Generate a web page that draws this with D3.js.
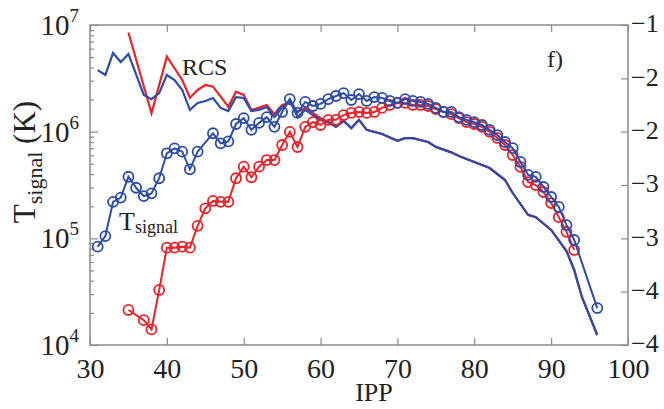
<!DOCTYPE html>
<html>
<head>
<meta charset="utf-8">
<script src="https://cdn.jsdelivr.net/npm/d3@7"></script>
<style>
body { margin: 0; background: #fff; }
svg { display: block; font-family: "Liberation Serif", "Times New Roman", serif; }
</style>
</head>
<body>
<svg id="chart" width="664" height="409"></svg>
<script>
// values (IPP vs temperature in K)
const rcsBlueIpp = [31,32,33,34,35,37,38,39,40,41,42,43,44,45,46,47,48,49,50,51,52,53,54,55,56,57,58,59,60,61,62,63,64,65,66,68,70,71,72,74,75,77,78,80,82,84,85,87,88,90,92,93,94,96]
const rcsBlueK = [3.78e6,3.4e6,5.47e6,4.5e6,5.35e6,2.21e6,2.02e6,2.3e6,3.4e6,3.05e6,2.46e6,1.6e6,1.86e6,1.94e6,2.07e6,1.67e6,1.56e6,2.11e6,2.07e6,1.56e6,1.6e6,1.7e6,1.37e6,1.67e6,1.98e6,1.37e6,1.6e6,1.43e6,1.29e6,1.23e6,1.11e6,1.26e6,1.08e6,1.29e6,1.04e6,9.5e5,8.2e5,8.7e5,8.7e5,8.0e5,7.2e5,6.4e5,5.9e5,5.2e5,4.56e5,3.52e5,2.66e5,1.66e5,1.58e5,1.2e5,7.6e4,5.05e4,2.82e4,1.24e4]

const rcsRedIpp = [35,38,40,41,42,43,44,45,46,47,48,49,50,51,52,53,54,55,56,57,58,59,60,61,62,63,64,65,66,68,70,71,72,74,75,77,78,80,82,84,85,87,88,90,92,93,94,96]
const rcsRedK = [8.5e6,1.49e6,5.05e6,3.93e6,3.05e6,2.08e6,2.46e6,2.74e6,2.64e6,2.13e6,1.71e6,2.37e6,2.21e6,1.6e6,1.68e6,1.78e6,1.46e6,1.78e6,1.86e6,1.53e6,1.67e6,1.5e6,1.34e6,1.23e6,1.11e6,1.26e6,1.08e6,1.29e6,1.04e6,9.5e5,8.2e5,8.7e5,8.7e5,8.0e5,7.2e5,6.4e5,5.9e5,5.2e5,4.56e5,3.52e5,2.66e5,1.66e5,1.58e5,1.2e5,7.6e4,5.05e4,2.82e4,1.24e4]

const sigBlueIpp = [31,32,33,34,35,36,37,38,39,40,41,42,43,44,46,47,48,49,50,51,52,53,54,55,56,57,58,59,60,61,62,63,64,65,66,67,68,69,70,71,72,73,74,75,76,77,78,79,80,81,82,83,84,85,86,87,88,89,90,91,92,93,96]
const sigBlueK = [8.35e4,1.05e5,2.2e5,2.41e5,3.78e5,2.98e5,2.49e5,2.64e5,3.66e5,6.27e5,6.98e5,6.49e5,4.44e5,6.49e5,9.66e5,7.78e5,8.1e5,1.18e6,1.34e6,1.04e6,1.21e6,1.37e6,1.11e6,1.53e6,2.02e6,1.5e6,1.9e6,1.74e6,1.82e6,2.02e6,2.16e6,2.3e6,1.98e6,2.25e6,1.94e6,2.11e6,2.07e6,1.94e6,1.86e6,2.02e6,1.94e6,1.9e6,1.82e6,1.67e6,1.53e6,1.53e6,1.37e6,1.29e6,1.23e6,1.155e6,1.04e6,9.3e5,8.0e5,7.0e5,5.2e5,3.93e5,3.77e5,3.03e5,2.44e5,1.97e5,1.33e5,9.65e4,2.22e4]

const sigRedIpp = [35,37,38,39,40,41,42,43,44,45,46,47,48,49,50,51,52,53,54,55,56,57,58,59,60,61,62,63,64,65,66,67,68,69,70,71,72,73,74,75,76,77,78,79,80,81,82,83,84,85,86,87,88,89,90,91,92,93]
const sigRedK = [2.13e4,1.71e4,1.4e4,3.28e4,8.17e4,8.17e4,8.35e4,8.17e4,1.31e5,1.91e5,2.24e5,2.2e5,2.2e5,3.66e5,4.7e5,3.74e5,4.7e5,5.42e5,5.42e5,7.5e5,9.94e5,7.18e5,1.11e6,1.23e6,1.155e6,1.29e6,1.29e6,1.43e6,1.5e6,1.53e6,1.5e6,1.53e6,1.67e6,1.78e6,1.86e6,1.86e6,1.78e6,1.78e6,1.74e6,1.63e6,1.53e6,1.46e6,1.34e6,1.23e6,1.18e6,1.11e6,9.94e5,8.73e5,7.5e5,6.04e5,4.67e5,3.37e5,3.16e5,2.72e5,2.14e5,1.58e5,1.15e5,7.78e4]

const xTicks = [30,40,50,60,70,80,90,100]
const yDecades = [1e4,1e5,1e6,1e7]
const rightTicks = [-1,-1.5,-2,-2.5,-3,-3.5,-4]
const rightTickLabels = ["\u22121","\u22122","\u22122","\u22123","\u22123","\u22124","\u22124"]

const blue = "#2c4ca8"
const red = "#ec2027"
const frameColor = "#8a8a8a"
const serif = "'Liberation Serif', 'Times New Roman', serif"

const plotLeft = 90, plotRight = 628, plotTop = 25, plotBottom = 345

const svg = d3.select("#chart")

const x = d3.scaleLinear().domain([30, 100]).range([plotLeft, plotRight])
const y = d3.scaleLog().domain([1e4, 1e7]).range([plotBottom, plotTop])
const yRight = d3.scaleLinear().domain([-4, -1]).range([plotBottom, plotTop])

function pairs(ipp, vals) {
    return ipp.map(function(d, i) { return [d, vals[i]] })
}

// frame
svg.append("rect")
    .attr("x", plotLeft).attr("y", plotTop)
    .attr("width", plotRight - plotLeft).attr("height", plotBottom - plotTop)
    .attr("fill", "none").attr("stroke", frameColor).attr("stroke-width", 1.5)

// bottom axis
const xAxis = svg.append("g")
    .attr("transform", "translate(0," + plotBottom + ")")
    .call(d3.axisBottom(x).tickValues(xTicks).tickSizeInner(-7).tickSizeOuter(0).tickPadding(14))
xAxis.select(".domain").remove()
xAxis.selectAll("line").attr("stroke", frameColor).attr("stroke-width", 1.2)
xAxis.selectAll("text").attr("font-size", 28).attr("fill", "#222")
    .attr("font-family", serif).attr("dy", "0.68em")

// top ticks
const xTop = svg.append("g")
    .attr("transform", "translate(0," + plotTop + ")")
    .call(d3.axisTop(x).tickValues(xTicks).tickSizeInner(-7).tickSizeOuter(0).tickFormat(""))
xTop.select(".domain").remove()
xTop.selectAll("line").attr("stroke", frameColor).attr("stroke-width", 1.2)

// left log axis: major + minor ticks
const minor = y.ticks().filter(function(d) { return yDecades.indexOf(d) < 0 })
const yMinor = svg.append("g")
    .attr("transform", "translate(" + plotLeft + ",0)")
    .call(d3.axisLeft(y).tickValues(minor).tickSizeInner(-4).tickSizeOuter(0).tickFormat(""))
yMinor.select(".domain").remove()
yMinor.selectAll("line").attr("stroke", frameColor).attr("stroke-width", 1.2)

const yMajor = svg.append("g")
    .attr("transform", "translate(" + plotLeft + ",0)")
    .call(d3.axisLeft(y).tickValues(yDecades).tickSizeInner(-8).tickSizeOuter(0).tickFormat(""))
yMajor.select(".domain").remove()
yMajor.selectAll("line").attr("stroke", frameColor).attr("stroke-width", 1.2)

const yLab = svg.append("g").selectAll("text")
    .data(yDecades)
    .join("text")
    .attr("x", 79)
    .attr("y", function(d) { return y(d) + 10 })
    .attr("text-anchor", "end")
    .attr("fill", "#222")
yLab.append("tspan").attr("font-size", 29).text("10")
yLab.append("tspan").attr("font-size", 19).attr("dy", -13)
    .text(function(d) { return Math.round(Math.log10(d)) })

// right axis
const yR = svg.append("g")
    .attr("transform", "translate(" + plotRight + ",0)")
    .call(d3.axisRight(yRight).tickValues(rightTicks).tickSizeInner(-7).tickSizeOuter(0)
        .tickPadding(3)
        .tickFormat(function(d, i) { return rightTickLabels[i] }))
yR.select(".domain").remove()
yR.selectAll("line").attr("stroke", frameColor).attr("stroke-width", 1.2)
yR.selectAll("text").attr("font-size", 26).attr("fill", "#222")
    .attr("font-family", serif).attr("dy", "0.26em")

// axis titles
svg.append("text")
    .attr("x", 374).attr("y", 401)
    .attr("text-anchor", "middle")
    .attr("font-size", 26).attr("fill", "#222")
    .text("IPP")

const yTitle = svg.append("text")
    .attr("transform", "translate(35,162) rotate(-90)")
    .attr("text-anchor", "middle")
    .attr("font-size", 31).attr("fill", "#222")
yTitle.append("tspan").text("T")
yTitle.append("tspan").attr("font-size", 22).attr("dy", 7).text("signal")
yTitle.append("tspan").attr("dy", -7).text(" (K)")

// lines
const line = d3.line()
    .x(function(d) { return x(d[0]) })
    .y(function(d) { return y(d[1]) })

svg.append("path")
    .datum(pairs(rcsRedIpp, rcsRedK))
    .attr("d", line)
    .attr("fill", "none").attr("stroke", red).attr("stroke-width", 2.2)

svg.append("path")
    .datum(pairs(rcsBlueIpp, rcsBlueK))
    .attr("d", line)
    .attr("fill", "none").attr("stroke", blue).attr("stroke-width", 2.2)

function markerSeries(ipp, vals, color) {
    const data = pairs(ipp, vals)
    const g = svg.append("g")
    g.append("path")
        .datum(data)
        .attr("d", line)
        .attr("fill", "none").attr("stroke", color).attr("stroke-width", 2)
    g.selectAll("circle")
        .data(data)
        .join("circle")
        .attr("cx", function(d) { return x(d[0]) })
        .attr("cy", function(d) { return y(d[1]) })
        .attr("r", 5)
        .attr("fill", "none")
        .attr("stroke", color)
        .attr("stroke-width", 1.8)
}

markerSeries(sigRedIpp, sigRedK, red)
markerSeries(sigBlueIpp, sigBlueK, blue)

// annotations
svg.append("text")
    .attr("x", 182).attr("y", 75)
    .attr("font-size", 24).attr("fill", "#222")
    .text("RCS")

const tAnn = svg.append("text")
    .attr("x", 119).attr("y", 230)
    .attr("font-size", 26).attr("fill", "#222")
tAnn.append("tspan").text("T")
tAnn.append("tspan").attr("font-size", 18).attr("dy", 3).text("signal")

svg.append("text")
    .attr("x", 547).attr("y", 67)
    .attr("font-size", 24).attr("fill", "#222")
    .text("f)")
</script>
</body>
</html>
